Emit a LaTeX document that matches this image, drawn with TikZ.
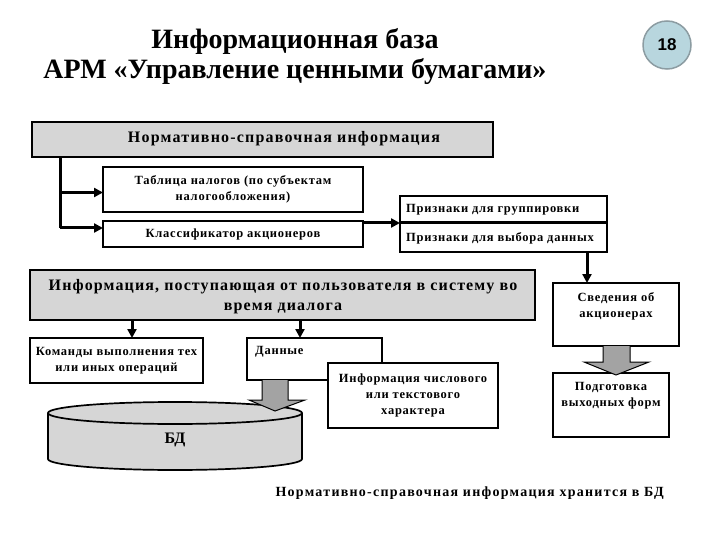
\documentclass[tikz,border=0pt]{standalone}
\usepackage{fontspec}
\setmainfont{Liberation Serif}
\newfontfamily\numfont{Liberation Sans}
\usetikzlibrary{arrows.meta,calc,shapes.geometric}
\definecolor{boxgray}{HTML}{D6D6D6}
\definecolor{arrgray}{HTML}{A3A3A3}
\definecolor{circblue}{HTML}{B8D6DE}
\definecolor{circedge}{HTML}{8C9CA2}
\begin{document}
\begin{tikzpicture}[x=1pt,y=-1pt,
  box/.style={draw, line width=1.7pt, inner sep=0pt, outer sep=0pt, anchor=north west, fill=white},
  graybox/.style={box, fill=boxgray},
  small/.style={font=\bfseries\fontsize{12.5}{16}\selectfont\addfontfeatures{LetterSpace=6}, align=center, inner sep=0pt},
  mid/.style={font=\bfseries\fontsize{16}{20}\selectfont\addfontfeatures{LetterSpace=7.5}, align=center, inner sep=0pt},
  thk/.style={line width=3pt, -{Triangle[length=9pt,width=9pt]}},
  blk/.style={draw, line width=1pt, fill=arrgray}]
\useasboundingbox (0,0) rectangle (720,540);
\fill[white] (0,0) rectangle (720,540);

% title
\node[font=\bfseries\fontsize{28}{30}\selectfont, align=center] (title) at (295,57) {Информационная база\\АРМ «Управление ценными бумагами»};
\node[circle, draw=circedge, fill=circblue, line width=1.5pt, minimum size=48pt, inner sep=0pt, font=\numfont\bfseries\fontsize{17}{18}\selectfont] (num) at (667,45) {18};

% boxes
\node[graybox, minimum width=461pt, minimum height=35pt] (nsi) at (32,122) {};
\node[mid] (nsit) at (284,139) {Нормативно-справочная информация};
\node[box, minimum width=260pt, minimum height=45pt, small] (tab) at (103,167) {Таблица налогов (по субъектам\\налогообложения)};
\node[box, minimum width=260pt, minimum height=26pt, small] (klass) at (103,221) {Классификатор акционеров};
\node[box, minimum width=207pt, minimum height=27pt] (pr1) at (400,196) {};
\node[box, minimum width=207pt, minimum height=29pt] (pr2) at (400,223) {};
\node[small, anchor=west] (pr1t) at (406,209.5) {Признаки для группировки};
\node[small, anchor=west] (pr2t) at (406,238) {Признаки для выбора данных};
\draw[line width=3pt] (pr1.south west) -- (pr1.south east);

\node[graybox, minimum width=505pt, minimum height=50pt] (info) at (30,270) {};
\node[mid, font=\bfseries\fontsize{16}{20}\selectfont\addfontfeatures{LetterSpace=7}] (infot) at (283,297) {Информация, поступающая от пользователя в систему во\\время диалога};

\node[box, minimum width=126pt, minimum height=63pt] (sved) at (553,283) {};
\node[small] (svedt) at (616,306) {Сведения об\\акционерах};

\node[box, minimum width=173pt, minimum height=45pt, small] (kom) at (30,338) {Команды выполнения тех\\или иных операций};
\node[box, minimum width=135pt, minimum height=42pt] (dan) at (247,338) {};
\node[small, anchor=west] (dant) at (255,352) {Данные};
\node[box, minimum width=170pt, minimum height=65pt] (infch) at (328,363) {};
\node[small] (infcht) at (413,395) {Информация числового\\или текстового\\характера};

\node[box, minimum width=116pt, minimum height=64pt] (podg) at (553,373) {};
\node[small] (podgt) at (611,396) {Подготовка\\выходных форм};

% cylinder
\draw[line width=1.7pt, fill=boxgray] (48,413) -- (48,459) arc[start angle=180, end angle=0, x radius=127, y radius=11] -- (302,413);
\node[ellipse, draw, fill=boxgray, line width=1.7pt, minimum width=254pt, minimum height=22pt, inner sep=0pt] (bdtop) at (175,413) {};
\node[font=\bfseries\fontsize{16}{18}\selectfont] (bd) at (175,440) {БД};

% connectors
\coordinate (v0) at (60,157);
\draw[line width=3pt] (v0) -- ($(klass.north west)+(-43,7)$) coordinate (v1);
\draw[thk] ($(tab.west)+(-43,3)$) -- ($(tab.west)+(0,3)$);
\draw[thk] (v1) -- ($(klass.north west)+(0,7)$);
\draw[thk] (klass.north east |- pr1.south) -- (pr1.south west);
\draw[thk] ($(pr2.south west)+(187,0)$) -- ($(sved.north west)+(34,0)$);
\draw[thk] ($(info.south west)+(102,0)$) -- ($(kom.north west)+(102,0)$);
\draw[thk] ($(info.south west)+(270,0)$) -- ($(dan.north west)+(53,0)$);

% block arrows
\draw[blk] (603,346) -- (603,362) -- (584,362) -- (616,375) -- (649,362) -- (630,362) -- (630,346);
\draw[blk] (262,380) -- (262,400) -- (249,400) -- (275,411) -- (305,400) -- (288,400) -- (288,380);

% bottom note
\node[font=\bfseries\fontsize{14}{16}\selectfont\addfontfeatures{LetterSpace=9}, anchor=west] (note) at (272,493) {Нормативно-справочная информация хранится в БД};
\end{tikzpicture}
\end{document}
